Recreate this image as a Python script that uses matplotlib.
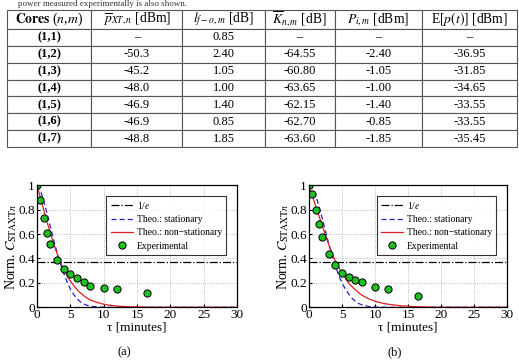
import numpy as np
import matplotlib
matplotlib.use("Agg")
import matplotlib.pyplot as plt

plt.rcParams["font.family"] = ["Liberation Serif", "DejaVu Serif"]
plt.rcParams["mathtext.fontset"] = "stix"

# table data
cores = ["(1,1)", "(1,2)", "(1,3)", "(1,4)", "(1,5)", "(1,6)", "(1,7)"]
p_xt = ["\u2013", "-50.3", "-45.2", "-48.0", "-46.9", "-46.9", "-48.8"]
l_fo = ["0.85", "2.40", "1.05", "1.00", "1.40", "0.85", "1.85"]
k_nm = ["\u2013", "-64.55", "-60.80", "-63.65", "-62.15", "-62.70", "-63.60"]
p_im = ["\u2013", "-2.40", "-1.05", "-1.00", "-1.40", "-0.85", "-1.85"]
e_pt = ["\u2013", "-36.95", "-31.85", "-34.65", "-33.55", "-33.55", "-35.45"]
headers = [r"$\mathbf{Cores}$ ($n$,$m$)", r"$\overline{p}_{XT,n}$ [dBm]",
           r"$l_{f-o,m}$ [dB]", r"$\overline{K}_{n,m}$ [dB]",
           r"$P_{i,m}$ [dBm]", r"E[$p(t)$] [dBm]"]

# experimental points
tau_exp = [0, 0.5, 1, 1.5, 2, 3, 4, 5, 6, 7, 8, 10, 12, 16.5]
exp_a = [1.0, 0.88, 0.73, 0.61, 0.52, 0.39, 0.31, 0.27, 0.24, 0.205, 0.175, 0.155, 0.15, 0.115]
exp_b = [1.0, 0.93, 0.80, 0.68, 0.58, 0.44, 0.35, 0.285, 0.245, 0.22, 0.205, 0.165, 0.15, 0.095]

# theoretical curves
tau_th = [0, 0.5, 1, 1.5, 2, 2.5, 3, 3.5, 4, 4.5, 5, 5.5, 6, 6.5, 7, 7.5, 8,
          9, 10, 11, 12, 14, 16, 18, 20, 30]
stat_a = [1.0, 0.96, 0.87, 0.77, 0.66, 0.55, 0.45, 0.36, 0.28, 0.21, 0.15, 0.105,
          0.07, 0.045, 0.028, 0.016, 0.009, 0.003, 0.001, 0, 0, 0, 0, 0, 0, 0]
nons_a = [1.0, 0.9, 0.8, 0.7, 0.61, 0.52, 0.44, 0.37, 0.31, 0.26, 0.215, 0.178,
          0.145, 0.118, 0.095, 0.076, 0.06, 0.04, 0.025, 0.016, 0.01, 0.004,
          0.0015, 0.0005, 0, 0]
stat_b = [1.0, 0.98, 0.92, 0.83, 0.73, 0.62, 0.52, 0.43, 0.34, 0.26, 0.2, 0.15,
          0.11, 0.075, 0.05, 0.032, 0.02, 0.007, 0.002, 0, 0, 0, 0, 0, 0, 0]
nons_b = [1.0, 0.92, 0.83, 0.75, 0.67, 0.59, 0.51, 0.44, 0.38, 0.33, 0.28, 0.24,
          0.2, 0.17, 0.145, 0.12, 0.1, 0.07, 0.05, 0.035, 0.025, 0.012, 0.005,
          0.002, 0, 0]
one_over_e = 0.3679

fig = plt.figure(figsize=(5.19, 3.6), dpi=100)

# caption line left over at the very top
fig.text(0.035, 1.0, "power measured experimentally is also shown.",
         fontsize=6.5, va="top", ha="left", color="#333333")

# table
tax = fig.add_axes([0.0135, 0.5917, 0.9827, 0.3806])
tax.axis("off")
cells = [[c, a, b, d, e, f] for c, a, b, d, e, f in zip(cores, p_xt, l_fo, k_nm, p_im, e_pt)]
col_w = [84, 91, 82, 70, 87, 95]
tbl = tax.table(cellText=cells, colLabels=headers, cellLoc="center",
                colWidths=[w / sum(col_w) for w in col_w], bbox=[0, 0, 1, 1])
tbl.auto_set_font_size(False)
for (r, c), cell in tbl.get_celld().items():
    cell.set_edgecolor("#555555")
    cell.set_linewidth(0.8)
    cell.get_text().set_fontsize(9)
    if r == 0:
        cell.set_height(cell.get_height() * 1.13)
        cell.get_text().set_fontsize(9.8)
    elif c == 0:
        cell.get_text().set_fontweight("bold")


def draw_panel(pos, stat, nons, expv, tag):
    ax = fig.add_axes(pos)
    ax.axhline(one_over_e, color="black", ls="-.", lw=0.9, label="1/$e$")
    ax.plot(tau_th, stat, color="#2020d0", ls=(0, (4, 2.5)), lw=0.9,
            label="Theo.: stationary")
    ax.plot(tau_th, nons, color="#e02020", lw=0.9,
            label="Theo.: non\u2212stationary")
    ax.plot(tau_exp, expv, "o", color="#20c020", mec="black", mew=0.7, ms=5.2,
            label="Experimental")
    ax.set_xlim(0, 30)
    ax.set_ylim(0, 1)
    ax.set_xticks([0, 5, 10, 15, 20, 25, 30])
    ax.set_yticks([0, 0.2, 0.4, 0.6, 0.8, 1])
    ax.set_yticklabels(["0", "0.2", "0.4", "0.6", "0.8", "1"])
    ax.grid(True, ls=":", color="#aaaaaa", lw=0.6)
    ax.tick_params(labelsize=9.5, direction="in", length=2, pad=1.5)
    for s in ax.spines.values():
        s.set_linewidth(0.9)
    ax.set_xlabel("\u03c4 [minutes]", fontsize=9.5, labelpad=0)
    ax.set_ylabel(r"Norm. $C_{\mathrm{STAXT}n}$", fontsize=10)
    ax.yaxis.set_label_coords(-0.09, 0.5)
    leg = ax.legend(loc="upper right", fontsize=6.9, frameon=True, fancybox=False,
                    edgecolor="black", borderpad=0.45, labelspacing=0.45,
                    handlelength=2.3, handletextpad=0.4,
                    bbox_to_anchor=(0.97, 0.955))
    leg.get_frame().set_linewidth(0.8)
    fig.text(pos[0] + pos[2] / 2 - 0.025, 0.012, tag, fontsize=9, ha="center")
    return ax


draw_panel([0.0713, 0.1464, 0.3854, 0.339], stat_a, nons_a, exp_a, "(a)")
draw_panel([0.5954, 0.1464, 0.3815, 0.339], stat_b, nons_b, exp_b, "(b)")

fig.savefig("out.png", dpi=100)
